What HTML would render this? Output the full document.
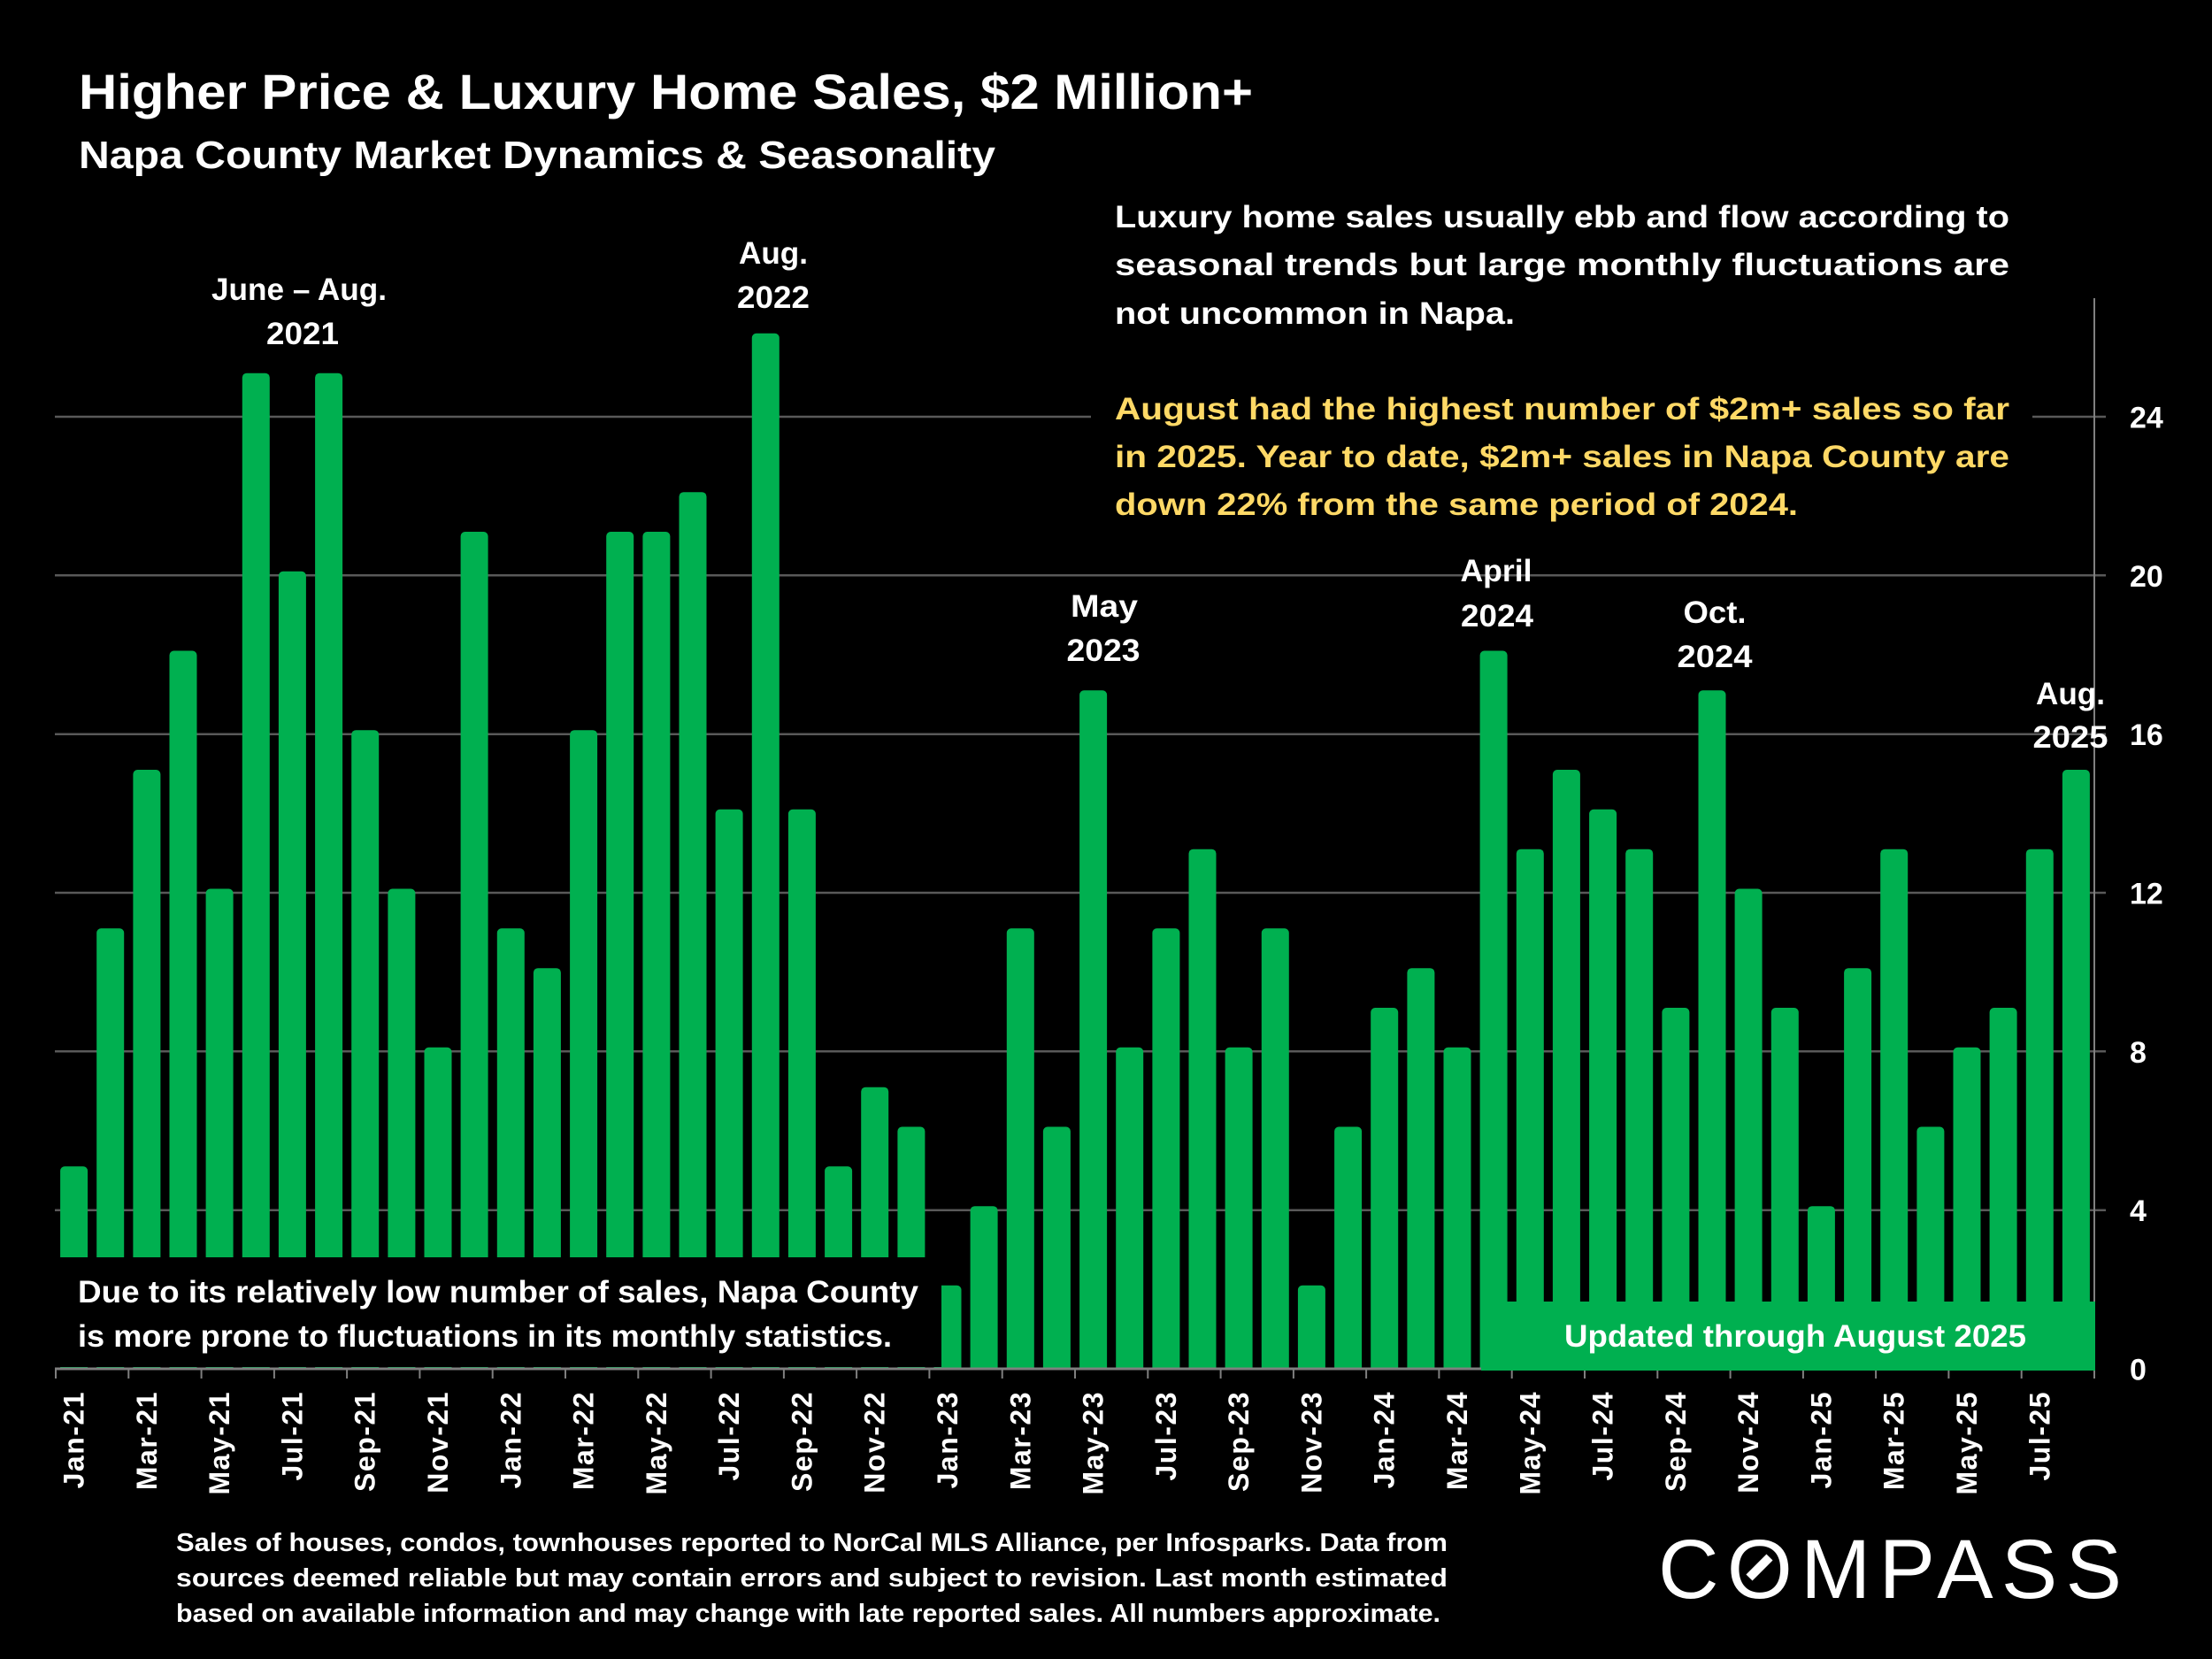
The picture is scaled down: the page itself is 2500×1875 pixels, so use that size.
<!DOCTYPE html>
<html>
<head>
<meta charset="utf-8">
<style>
html,body{margin:0;padding:0;background:#000;}
svg{display:block;}
text{font-family:"Liberation Sans",Arial,sans-serif;font-weight:bold;}
</style>
</head>
<body>
<svg width="2500" height="1875" viewBox="0 0 2500 1875" xmlns="http://www.w3.org/2000/svg">
<defs>
<clipPath id="c"><rect x="0" y="0" width="2500" height="1547"/></clipPath>
</defs>
<rect x="0" y="0" width="2500" height="1875" fill="#000"/>

<!-- gridlines -->
<g stroke="#595959" stroke-width="2.5">
<line x1="62" y1="1367.7" x2="2380" y2="1367.7"/>
<line x1="62" y1="1188.3" x2="2380" y2="1188.3"/>
<line x1="62" y1="1009" x2="2380" y2="1009"/>
<line x1="62" y1="829.7" x2="2380" y2="829.7"/>
<line x1="62" y1="650.3" x2="2380" y2="650.3"/>
<line x1="62" y1="471" x2="2380" y2="471"/>
</g>

<!-- bars -->
<g fill="#00B050" clip-path="url(#c)">
<rect x="68.1" y="1318.3" width="31" height="241.7" rx="5"/>
<rect x="109.2" y="1049.3" width="31" height="510.7" rx="5"/>
<rect x="150.4" y="870" width="31" height="690" rx="5"/>
<rect x="191.5" y="735.5" width="31" height="824.5" rx="5"/>
<rect x="232.6" y="1004.5" width="31" height="555.5" rx="5"/>
<rect x="273.8" y="421.7" width="31" height="1138.3" rx="5"/>
<rect x="314.9" y="645.8" width="31" height="914.2" rx="5"/>
<rect x="356.1" y="421.7" width="31" height="1138.3" rx="5"/>
<rect x="397.2" y="825.2" width="31" height="734.8" rx="5"/>
<rect x="438.4" y="1004.5" width="31" height="555.5" rx="5"/>
<rect x="479.5" y="1183.8" width="31" height="376.2" rx="5"/>
<rect x="520.6" y="601" width="31" height="959" rx="5"/>
<rect x="561.8" y="1049.3" width="31" height="510.7" rx="5"/>
<rect x="602.9" y="1094.2" width="31" height="465.8" rx="5"/>
<rect x="644.1" y="825.2" width="31" height="734.8" rx="5"/>
<rect x="685.2" y="601" width="31" height="959" rx="5"/>
<rect x="726.4" y="601" width="31" height="959" rx="5"/>
<rect x="767.5" y="556.2" width="31" height="1003.8" rx="5"/>
<rect x="808.6" y="914.8" width="31" height="645.2" rx="5"/>
<rect x="849.8" y="376.8" width="31" height="1183.2" rx="5"/>
<rect x="890.9" y="914.8" width="31" height="645.2" rx="5"/>
<rect x="932.1" y="1318.3" width="31" height="241.7" rx="5"/>
<rect x="973.2" y="1228.7" width="31" height="331.3" rx="5"/>
<rect x="1014.4" y="1273.5" width="31" height="286.5" rx="5"/>
<rect x="1055.5" y="1452.8" width="31" height="107.2" rx="5"/>
<rect x="1096.6" y="1363.2" width="31" height="196.8" rx="5"/>
<rect x="1137.8" y="1049.3" width="31" height="510.7" rx="5"/>
<rect x="1178.9" y="1273.5" width="31" height="286.5" rx="5"/>
<rect x="1220.1" y="780.3" width="31" height="779.7" rx="5"/>
<rect x="1261.2" y="1183.8" width="31" height="376.2" rx="5"/>
<rect x="1302.4" y="1049.3" width="31" height="510.7" rx="5"/>
<rect x="1343.5" y="959.7" width="31" height="600.3" rx="5"/>
<rect x="1384.6" y="1183.8" width="31" height="376.2" rx="5"/>
<rect x="1425.8" y="1049.3" width="31" height="510.7" rx="5"/>
<rect x="1466.9" y="1452.8" width="31" height="107.2" rx="5"/>
<rect x="1508.1" y="1273.5" width="31" height="286.5" rx="5"/>
<rect x="1549.2" y="1139" width="31" height="421" rx="5"/>
<rect x="1590.4" y="1094.2" width="31" height="465.8" rx="5"/>
<rect x="1631.5" y="1183.8" width="31" height="376.2" rx="5"/>
<rect x="1672.6" y="735.5" width="31" height="824.5" rx="5"/>
<rect x="1713.8" y="959.7" width="31" height="600.3" rx="5"/>
<rect x="1754.9" y="870" width="31" height="690" rx="5"/>
<rect x="1796.1" y="914.8" width="31" height="645.2" rx="5"/>
<rect x="1837.2" y="959.7" width="31" height="600.3" rx="5"/>
<rect x="1878.4" y="1139" width="31" height="421" rx="5"/>
<rect x="1919.5" y="780.3" width="31" height="779.7" rx="5"/>
<rect x="1960.6" y="1004.5" width="31" height="555.5" rx="5"/>
<rect x="2001.8" y="1139" width="31" height="421" rx="5"/>
<rect x="2042.9" y="1363.2" width="31" height="196.8" rx="5"/>
<rect x="2084.1" y="1094.2" width="31" height="465.8" rx="5"/>
<rect x="2125.2" y="959.7" width="31" height="600.3" rx="5"/>
<rect x="2166.4" y="1273.5" width="31" height="286.5" rx="5"/>
<rect x="2207.5" y="1183.8" width="31" height="376.2" rx="5"/>
<rect x="2248.6" y="1139" width="31" height="421" rx="5"/>
<rect x="2289.8" y="959.7" width="31" height="600.3" rx="5"/>
<rect x="2330.9" y="870" width="31" height="690" rx="5"/>
</g>

<!-- text box backgrounds -->
<rect x="1233" y="205" width="1064" height="410" fill="#000"/>
<rect x="0" y="1421" width="1064" height="124" fill="#000"/>

<!-- axes -->
<line x1="2367" y1="337" x2="2367" y2="1547" stroke="#808080" stroke-width="2"/>
<line x1="62" y1="1547" x2="2368" y2="1547" stroke="#7f7f7f" stroke-width="3"/>
<path stroke="#7f7f7f" stroke-width="2" fill="none" d="M63 1547V1558M145.3 1547V1558M227.6 1547V1558M309.9 1547V1558M392.1 1547V1558M474.4 1547V1558M556.7 1547V1558M639 1547V1558M721.3 1547V1558M803.6 1547V1558M885.9 1547V1558M968.1 1547V1558M1050.4 1547V1558M1132.7 1547V1558M1215 1547V1558M1297.3 1547V1558M1379.6 1547V1558M1461.9 1547V1558M1544.1 1547V1558M1626.4 1547V1558M1708.7 1547V1558M1791 1547V1558M1873.3 1547V1558M1955.6 1547V1558M2037.9 1547V1558M2120.1 1547V1558M2202.4 1547V1558M2284.7 1547V1558M2367 1547V1558"/>

<!-- green updated box -->
<rect x="1674" y="1471" width="694" height="78" fill="#00B050"/>
<text x="1768" y="1522" font-size="35" fill="#fff" textLength="522" lengthAdjust="spacingAndGlyphs">Updated through August 2025</text>

<!-- y labels -->
<g font-size="34" fill="#fff">
<text x="2407" y="1559.5">0</text>
<text x="2407" y="1380">4</text>
<text x="2407" y="1201">8</text>
<text x="2407" y="1021.5">12</text>
<text x="2407" y="842">16</text>
<text x="2407" y="663">20</text>
<text x="2407" y="483.5">24</text>
</g>

<!-- x labels -->
<g font-size="32" fill="#fff" text-anchor="end" letter-spacing="1.5">
<text transform="translate(94.6,1572) rotate(-90)">Jan-21</text>
<text transform="translate(176.9,1572) rotate(-90)">Mar-21</text>
<text transform="translate(259.1,1572) rotate(-90)">May-21</text>
<text transform="translate(341.4,1572) rotate(-90)">Jul-21</text>
<text transform="translate(423.7,1572) rotate(-90)">Sep-21</text>
<text transform="translate(506,1572) rotate(-90)">Nov-21</text>
<text transform="translate(588.3,1572) rotate(-90)">Jan-22</text>
<text transform="translate(670.6,1572) rotate(-90)">Mar-22</text>
<text transform="translate(752.9,1572) rotate(-90)">May-22</text>
<text transform="translate(835.1,1572) rotate(-90)">Jul-22</text>
<text transform="translate(917.4,1572) rotate(-90)">Sep-22</text>
<text transform="translate(999.7,1572) rotate(-90)">Nov-22</text>
<text transform="translate(1082,1572) rotate(-90)">Jan-23</text>
<text transform="translate(1164.3,1572) rotate(-90)">Mar-23</text>
<text transform="translate(1246.6,1572) rotate(-90)">May-23</text>
<text transform="translate(1328.9,1572) rotate(-90)">Jul-23</text>
<text transform="translate(1411.1,1572) rotate(-90)">Sep-23</text>
<text transform="translate(1493.4,1572) rotate(-90)">Nov-23</text>
<text transform="translate(1575.7,1572) rotate(-90)">Jan-24</text>
<text transform="translate(1658,1572) rotate(-90)">Mar-24</text>
<text transform="translate(1740.3,1572) rotate(-90)">May-24</text>
<text transform="translate(1822.6,1572) rotate(-90)">Jul-24</text>
<text transform="translate(1904.9,1572) rotate(-90)">Sep-24</text>
<text transform="translate(1987.1,1572) rotate(-90)">Nov-24</text>
<text transform="translate(2069.4,1572) rotate(-90)">Jan-25</text>
<text transform="translate(2151.7,1572) rotate(-90)">Mar-25</text>
<text transform="translate(2234,1572) rotate(-90)">May-25</text>
<text transform="translate(2316.3,1572) rotate(-90)">Jul-25</text>
</g>

<!-- title -->
<text x="89" y="123" font-size="56" fill="#fff" textLength="1327" lengthAdjust="spacingAndGlyphs">Higher Price &amp; Luxury Home Sales, $2 Million+</text>
<text x="89" y="190" font-size="44" fill="#fff" textLength="1036" lengthAdjust="spacingAndGlyphs">Napa County Market Dynamics &amp; Seasonality</text>

<!-- annotations -->
<g font-size="35" fill="#fff" text-anchor="middle">
<text x="338" y="339" textLength="198" lengthAdjust="spacingAndGlyphs">June – Aug.</text>
<text x="342" y="389" textLength="82" lengthAdjust="spacingAndGlyphs">2021</text>
<text x="874" y="298" textLength="78" lengthAdjust="spacingAndGlyphs">Aug.</text>
<text x="874" y="348" textLength="82" lengthAdjust="spacingAndGlyphs">2022</text>
<text x="1248" y="697" textLength="76" lengthAdjust="spacingAndGlyphs">May</text>
<text x="1247" y="747" textLength="83" lengthAdjust="spacingAndGlyphs">2023</text>
<text x="1691" y="657" textLength="81" lengthAdjust="spacingAndGlyphs">April</text>
<text x="1692" y="708" textLength="82" lengthAdjust="spacingAndGlyphs">2024</text>
<text x="1938" y="704" textLength="71" lengthAdjust="spacingAndGlyphs">Oct.</text>
<text x="1938" y="754" textLength="85" lengthAdjust="spacingAndGlyphs">2024</text>
<text x="2340" y="796" textLength="78" lengthAdjust="spacingAndGlyphs">Aug.</text>
<text x="2340" y="845" textLength="85" lengthAdjust="spacingAndGlyphs">2025</text>
</g>

<!-- top-right paragraph -->
<g font-size="35">
<text x="1260" y="257" fill="#fff" textLength="1011" lengthAdjust="spacingAndGlyphs">Luxury home sales usually ebb and flow according to</text>
<text x="1260" y="311" fill="#fff" textLength="1011" lengthAdjust="spacingAndGlyphs">seasonal  trends  but  large  monthly  fluctuations  are</text>
<text x="1260" y="366" fill="#fff" textLength="452" lengthAdjust="spacingAndGlyphs">not uncommon in Napa.</text>
<text x="1260" y="474" fill="#FFD966" textLength="1011" lengthAdjust="spacingAndGlyphs">August had the highest number of $2m+ sales so far</text>
<text x="1260" y="528" fill="#FFD966" textLength="1011" lengthAdjust="spacingAndGlyphs">in 2025. Year to date, $2m+ sales in Napa County are</text>
<text x="1260" y="582" fill="#FFD966" textLength="772" lengthAdjust="spacingAndGlyphs">down 22% from the same period of 2024.</text>
</g>

<!-- bottom-left note -->
<g font-size="35" fill="#fff">
<text x="88" y="1472" textLength="950" lengthAdjust="spacingAndGlyphs">Due to its relatively low number of sales, Napa County</text>
<text x="88" y="1522" textLength="920" lengthAdjust="spacingAndGlyphs">is more prone to fluctuations in its monthly statistics.</text>
</g>

<!-- footnote -->
<g font-size="29" fill="#fff">
<text x="199" y="1753" textLength="1437" lengthAdjust="spacingAndGlyphs">Sales of houses, condos, townhouses reported to NorCal MLS Alliance, per Infosparks. Data from</text>
<text x="199" y="1793" textLength="1437" lengthAdjust="spacingAndGlyphs">sources deemed reliable but may contain errors and subject to revision. Last month estimated</text>
<text x="199" y="1833" textLength="1429" lengthAdjust="spacingAndGlyphs">based on available information and may change with late reported sales. All numbers approximate.</text>
</g>

<!-- logo -->
<text x="1874" y="1806" font-size="95" fill="#fff" style="font-weight:normal" textLength="524" lengthAdjust="spacing">COMPASS</text>
<line x1="1977" y1="1783" x2="2000" y2="1760" stroke="#fff" stroke-width="10"/>
</svg>
</body>
</html>
